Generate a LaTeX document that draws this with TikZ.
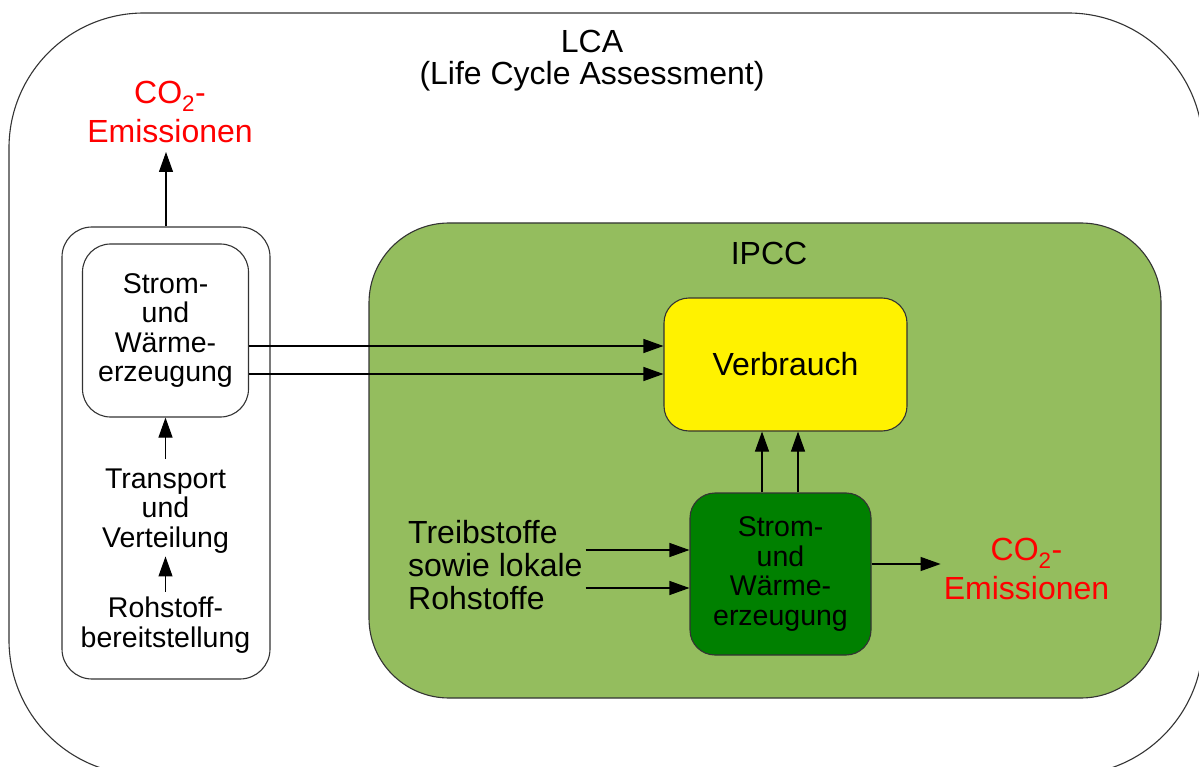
\documentclass[tikz,border=0pt]{standalone}
\usepackage{fontspec}
\setmainfont{Liberation Sans}
\usetikzlibrary{arrows.meta}
\definecolor{ipccgreen}{RGB}{148,189,94}
\definecolor{darkgr}{RGB}{0,128,0}
\definecolor{linegray}{RGB}{51,51,51}
\begin{document}
\begin{tikzpicture}[x=1pt,y=-1pt,
  box/.style={draw=linegray, line width=1.1pt, rectangle},
  arr/.style={draw=black, line width=1.1pt, -{Triangle[length=20pt,width=14pt]}},
  bigtxt/.style={font=\fontsize{32}{32}\selectfont, inner sep=3pt},
  smalltxt/.style={font=\fontsize{28.5}{29.5}\selectfont, align=center, inner sep=3pt},
  redtxt/.style={font=\fontsize{32}{38.5}\selectfont, text=red, align=center, inner sep=3pt}]
\useasboundingbox (0,0) rectangle (1199,767);
\clip (0,0) rectangle (1199,767);
\fill[white] (0,0) rectangle (1199,767);
% outer LCA frame
\node[box, rounded corners=135pt, minimum width=1194pt, minimum height=762pt] (lca) at (606,394) {};
\node[bigtxt, align=center] (lcatxt) at (592,61) {LCA\\(Life Cycle Assessment)};
% IPCC frame
\node[box, fill=ipccgreen, rounded corners=80pt, minimum width=792pt, minimum height=475pt] (ipcc) at (765,460.5) {};
\node[bigtxt, anchor=base] (ipcctxt) at (769,265) {IPCC};
% left chain
\node[box, rounded corners=30pt, minimum width=208pt, minimum height=452pt] (lbox) at (166,453) {};
\node[box, smalltxt, rounded corners=28pt, minimum width=166pt, minimum height=173pt] (lstrom) at (165.5,330.5) {Strom-\\und\\Wärme-\\erzeugung};
\node[smalltxt] (transp) at (165.5,511) {Transport\\und\\Verteilung};
\node[smalltxt] (rohst) at (165.5,625) {Rohstoff-\\bereitstellung};
\node[redtxt, anchor=south] (co2a) at (170,146) {CO\textsubscript{2}-\\Emissionen};
% IPCC content
\node[box, bigtxt, fill=yellow, rounded corners=25pt, minimum width=243pt, minimum height=133pt] (verb) at (785.5,364.5) {Verbrauch};
\node[box, smalltxt, fill=darkgr, rounded corners=25pt, minimum width=181pt, minimum height=162pt] (dgreen) at (780.5,574) {Strom-\\und\\Wärme-\\erzeugung};
\node[font=\fontsize{32}{33}\selectfont, align=left, anchor=west, inner sep=3pt] (treib) at (405,565.5) {Treibstoffe\\sowie lokale\\Rohstoffe};
\node[redtxt, anchor=south] (co2b) at (1026.5,603) {CO\textsubscript{2}-\\Emissionen};
% helper coordinates
\coordinate (ya) at (0,346);
\coordinate (yb) at (0,374);
\coordinate (yc) at (0,550);
\coordinate (yd) at (0,588);
\coordinate (ye) at (0,564);
\coordinate (xa) at (762,0);
\coordinate (xb) at (798,0);
% connectors
\draw[arr, shorten >=6pt] (lbox.north) -- (lbox.north |- co2a.south);
\draw[arr, shorten <=6.5pt] (transp.north) -- (lstrom.south);
\draw[arr, shorten <=2pt] (rohst.north) -- (transp.south);
\draw[arr] (lstrom.east |- ya) -- (verb.west |- ya);
\draw[arr] (lstrom.east |- yb) -- (verb.west |- yb);
\draw[arr] (dgreen.north -| xa) -- (verb.south -| xa);
\draw[arr] (dgreen.north -| xb) -- (verb.south -| xb);
\draw[arr] (treib.east |- yc) -- (dgreen.west |- yc);
\draw[arr] (treib.east |- yd) -- (dgreen.west |- yd);
\draw[arr] (dgreen.east |- ye) -- (co2b.west |- ye);
\end{tikzpicture}
\end{document}
